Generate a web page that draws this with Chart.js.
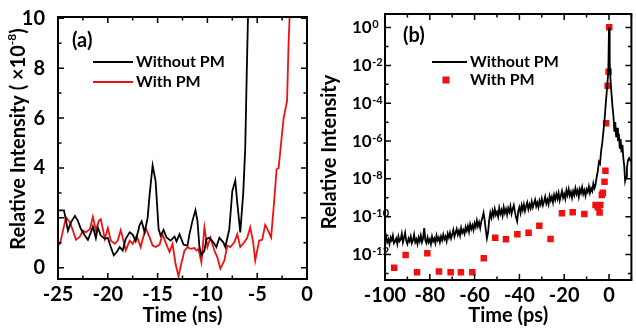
<!DOCTYPE html>
<html>
<head>
<meta charset="utf-8">
<script src="https://cdn.jsdelivr.net/npm/chart.js@4.4.1/dist/chart.umd.min.js"></script>
<style>
  body { margin: 0; background: #fff; }
  .wrap { display: flex; width: 636px; height: 330px; }
</style>
</head>
<body>
<div class="wrap">
  <canvas id="chartA" width="318" height="330"></canvas>
  <canvas id="chartB" width="318" height="330"></canvas>
</div>
<script>
// ---- panel (a): time in ns, relative intensity in units of 1e-8 ----
const aNoPmTime = [-25, -24.4, -24.0, -23.7, -23.3, -23.0, -22.7, -22.3, -22.0, -21.7, -21.5, -21.2, -21.0, -20.7, -20.3, -20.0,
  -19.7, -19.4, -19.1, -18.8, -18.5, -18.2, -17.8, -17.5, -17.2, -16.8, -16.6, -16.3, -16.0, -15.8, -15.5, -15.2, -14.9,
  -14.7, -14.4, -14.1, -13.7, -13.3, -13.1, -12.8, -12.4, -12.0, -11.8, -11.5, -11.2, -11.0, -10.8, -10.6, -10.3, -10.1,
  -9.8, -9.4, -9.1, -8.8, -8.4, -8.2, -7.8, -7.5, -7.2, -7.0, -6.7, -6.4, -6.2, -6.05, -5.9];
const aNoPmValue = [2.3, 2.3, 1.49, 1.82, 2.08, 1.88, 1.55, 1.29, 1.12, 1.42, 1.65, 1.19, 1.62, 1.29, 1.16, 1.2,
  0.83, 0.5, 0.63, 0.83, 0.69, 1.16, 1.42, 1.33, 1.06, 1.72, 1.86, 1.42, 2.0, 2.94, 4.1, 3.47, 1.55,
  1.29, 1.52, 1.22, 1.09, 1.25, 1.06, 1.35, 0.93, 0.89, 1.35, 1.88, 2.31, 1.88, 0.83, 0.5, 0.69, 1.16,
  1.2, 1.02, 0.83, 1.2, 1.02, 0.83, 1.55, 3.07, 3.5, 2.6, 1.42, 3.0, 4.8, 7.8, 10.5];

const aPmTime = [-25, -24.8, -24.5, -24.2, -23.8, -23.5, -23.2, -22.8, -22.5, -22.2, -21.8, -21.5, -21.2, -20.9, -20.7,
  -20.3, -20.0, -19.7, -19.3, -19.0, -18.7, -18.5, -18.2, -17.8, -17.5, -17.1, -16.7, -16.2, -15.8, -15.5, -15.2,
  -14.8, -14.5, -14.2, -13.8, -13.5, -13.2, -12.9, -12.7, -12.3, -12.0, -11.7, -11.3, -11.1, -10.9, -10.6, -10.3,
  -10.0, -9.7, -9.3, -9.0, -8.7, -8.3, -8.0, -7.7, -7.3, -7.0, -6.7, -6.3, -6.0, -5.7, -5.4, -5.2, -4.8, -4.5,
  -4.2, -3.9, -3.6, -3.3, -3.05, -2.85, -2.6, -2.35, -2.0, -1.85, -1.7];
const aPmValue = [0.9, 0.96, 1.49, 2.02, 1.82, 1.49, 1.12, 1.25, 1.49, 1.42, 1.55, 2.04, 1.49, 1.88, 1.95,
  1.16, 1.59, 1.09, 0.96, 1.09, 1.51, 1.2, 0.7, 1.09, 0.96, 1.29, 0.83, 1.59, 1.22, 0.89, 0.83,
  0.93, 1.35, 1.02, 0.63, 0.96, 0.16, -0.34, 0.03, 0.69, 0.83, 0.76, 0.79, 0.69, 0.76, 0.22, 1.62,
  0.83, 1.2, 0.69, 0.42, -0.04, 0.29, 0.89, 0.83, 1.02, 1.35, 0.83, 1.02, 1.2, 1.62, 1.02, 0.29, 1.09, 1.12,
  1.72, 1.49, 1.22, 2.66, 3.95, 4.0, 5.0, 6.0, 6.7, 9.0, 10.5];

const aXTicks = [-25, -22.5, -20, -17.5, -15, -12.5, -10, -7.5, -5, -2.5, 0];
const aXLabels = [-25, -20, -15, -10, -5, 0];
const aYTicks = [0, 1, 2, 3, 4, 5, 6, 7, 8, 9, 10];
const aYLabels = [0, 2, 4, 6, 8, 10];

// ---- panel (b): time in ps, relative intensity given as log10 exponents ----
const bNoPmTime = [
  -100, -99.5, -99, -98.5, -98, -97.5, -97, -96.5, -96, -95.5, -95, -94.5, -94, -93.5, -93, -92.5, -92, -91.5, -91, -90.5,
  -90, -89.5, -89, -88.5, -88, -87.5, -87, -86.5, -86, -85.5, -85, -84.5, -84, -83.5, -83, -82.5, -82, -81.5, -81, -80.5,
  -80, -79.5, -79, -78.5, -78, -77.5, -77, -76.5, -76, -75.5, -75, -74.5, -74, -73.5, -73, -72.5, -72, -71.5, -71, -70.5,
  -70, -69.5, -69, -68.5, -68, -67.5, -67, -66.5, -66, -65.5, -65, -64.5, -64, -63.5, -63, -62.5, -62, -61.5, -61, -60.5,
  -60, -59.5, -59, -58.5, -58, -57.5, -57, -56.5, -56, -55.5, -55, -54.5, -54, -53.5, -53, -52.5, -52, -51.5, -51, -50.5,
  -50, -49.5, -49, -48.5, -48, -47.5, -47, -46.5, -46, -45.5, -45, -44.5, -44, -43.5, -43, -42.5, -42, -41.5, -41, -40.5,
  -40, -39.5, -39, -38.5, -38, -37.5, -37, -36.5, -36, -35.5, -35, -34.5, -34, -33.5, -33, -32.5, -32, -31.5, -31, -30.5,
  -30, -29.5, -29, -28.5, -28, -27.5, -27, -26.5, -26, -25.5, -25, -24.5, -24, -23.5, -23, -22.5, -22, -21.5, -21, -20.5,
  -20, -19.5, -19, -18.5, -18, -17.5, -17, -16.5, -16, -15.5, -15, -14.5, -14, -13.5, -13, -12.5, -12, -11.5, -11, -10.5,
  -10, -9.5, -9, -8.5, -8, -7.5, -7, -6.5, -6,
  -5.5, -5, -4.5, -4, -3.5, -3, -2.5, -2, -1.5, -1, -0.6, -0.3, 0, 0.3, 0.6, 1, 1.5, 2, 2.4, 2.8,
  3.2, 3.6, 4, 4.4, 4.8, 5.2, 5.6, 6, 6.4, 6.8, 7.2, 7.6, 8, 8.5, 9, 9.5, 10];
const bNoPmExp = [
  -11.30, -11.05, -11.35, -11.20, -11.45, -11.10, -11.25, -11.00, -11.40, -11.30, -11.15, -11.45, -11.05, -11.30, -11.20, -10.90, -11.35, -11.10, -10.85, -11.30,
  -11.45, -11.15, -11.30, -11.05, -11.40, -11.25, -10.95, -11.35, -11.20, -11.45, -11.10, -11.30, -11.00, -11.35, -11.15, -10.60, -11.25, -11.40, -11.10, -11.35,
  -11.20, -11.45, -11.05, -11.30, -11.15, -11.40, -11.00, -11.25, -11.10, -11.35, -11.05, -11.25, -10.95, -11.20, -11.05, -11.30, -10.90, -11.10, -10.85, -11.15,
  -10.95, -10.70, -11.05, -10.85, -10.65, -10.95, -10.75, -11.00, -10.60, -10.85, -10.70, -10.90, -10.55, -10.75, -10.50, -10.80, -10.40, -10.65, -10.45, -10.70,
  -10.35, -10.55, -10.20, -10.50, -10.30, -10.60, -10.25, -10.05, -9.80, -10.20, -10.70, -11.15, -10.85, -10.20, -9.80, -10.05, -9.70, -9.95, -9.60, -9.90,
  -9.75, -10.00, -9.55, -9.85, -9.65, -9.95, -9.50, -9.80, -9.60, -9.90, -9.55, -9.75, -9.45, -9.85, -9.60, -9.40, -9.75, -10.05, -10.25, -9.70,
  -9.50, -9.80, -9.40, -9.65, -9.35, -9.70, -9.45, -9.25, -9.60, -9.35, -9.55, -9.20, -9.50, -9.30, -9.10, -9.45, -9.25, -9.50, -9.15, -9.35,
  -9.05, -9.40, -9.20, -8.95, -9.30, -9.10, -9.35, -8.90, -9.15, -8.95, -9.25, -8.85, -9.10, -8.80, -9.05, -8.75, -9.15, -8.90, -8.65, -9.00,
  -8.80, -9.05, -8.60, -8.85, -8.55, -8.90, -8.70, -9.00, -8.65, -8.85, -8.50, -8.80, -8.60, -8.95, -8.55, -8.75, -8.45, -8.80, -8.60, -8.90,
  -8.55, -8.70, -8.40, -8.75, -8.50, -8.65, -8.25, -8.50, -8.30,
  -7.9, -7.6, -7.1, -7.2, -6.5, -6.1, -5.5, -4.9, -4.1, -3.4, -2.8, -2.3, 0, -1.8, -2.6, -3.3, -4.1, -4.7, -5.5, -5.0,
  -5.8, -5.3, -6.0, -5.6, -6.4, -5.9, -6.6, -6.2, -6.9, -7.3, -8.1, -7.9, -7.4, -7.0, -6.9, -7.0, -7.1];

const bPmTime = [-95.9, -90.8, -85.7, -81.1, -75.9, -70.7, -66.1, -61.0, -55.9, -50.8, -46.0, -40.9, -35.9, -31.1, -26.1,
  -21.0, -16.2, -11.0, -6.0, -5.0, -4.2, -3.9, -3.2, -2.75, -2.0, -1.6, -1.3, -0.6, -0.15, 0.1];
const bPmExp = [-12.7, -12.03, -12.94, -11.94, -12.9, -12.94, -12.94, -12.94, -12.2, -11.11, -11.2, -10.93, -10.85, -10.48, -11.18,
  -9.82, -9.77, -9.86, -9.38, -9.5, -9.78, -9.38, -8.85, -8.73, -8.15, -7.57, -5.06, -3.08, -2.33, 0.02];

const bXTicks = [-100, -90, -80, -70, -60, -50, -40, -30, -20, -10, 0, 10];
const bXLabels = [-100, -80, -60, -40, -20, 0];
const bYTickExps = [-13, -12, -11, -10, -9, -8, -7, -6, -5, -4, -3, -2, -1, 0];
const bYLabelExps = [-12, -10, -8, -6, -4, -2, 0];

const FONT = 'Lato';
const RED = '#f01010';
Chart.defaults.font.family = FONT;
Chart.defaults.font.weight = 'bold';
Chart.defaults.color = '#000';

function isIn(list, v) {
  return list.some(u => u === 0 ? v === 0 : Math.abs(u - v) <= 1e-6 * Math.abs(u));
}

// box round the plot area with inward ticks on all four sides
const framePlugin = {
  id: 'frame',
  afterDatasetsDraw(chart, args, opts) {
    const { ctx, chartArea: a, scales } = chart;
    ctx.save();
    ctx.strokeStyle = '#000';
    ctx.lineWidth = 1.5;
    ctx.beginPath();
    scales.x.ticks.forEach(t => {
      const px = scales.x.getPixelForValue(t.value);
      const len = isIn(opts.xMajor, t.value) ? 6 : 3.5;
      ctx.moveTo(px, a.bottom); ctx.lineTo(px, a.bottom - len);
      ctx.moveTo(px, a.top); ctx.lineTo(px, a.top + len);
    });
    scales.y.ticks.forEach(t => {
      const py = scales.y.getPixelForValue(t.value);
      const len = isIn(opts.yMajor, t.value) ? 6 : 3.5;
      ctx.moveTo(a.left, py); ctx.lineTo(a.left + len, py);
      ctx.moveTo(a.right, py); ctx.lineTo(a.right - len, py);
    });
    ctx.stroke();
    ctx.lineWidth = 2;
    ctx.strokeRect(a.left, a.top, a.right - a.left, a.bottom - a.top);
    ctx.restore();
  }
};

// panel tag, in-plot legend, y title with superscript, power-of-ten labels
const overlayPlugin = {
  id: 'overlay',
  afterDraw(chart, args, o) {
    const ctx = chart.ctx;
    ctx.save();
    ctx.fillStyle = '#000';
    ctx.textAlign = 'left';
    ctx.textBaseline = 'middle';

    ctx.font = `bold 20px ${FONT}`;
    ctx.fillText(o.tag.text, o.tag.x, o.tag.y);

    ctx.font = `bold 16px ${FONT}`;
    o.legend.forEach(item => {
      const ds = chart.data.datasets[item.ds];
      if (item.kind === 'line') {
        ctx.strokeStyle = ds.borderColor;
        ctx.lineWidth = 2;
        ctx.beginPath();
        ctx.moveTo(item.x1, item.y); ctx.lineTo(item.x2, item.y);
        ctx.stroke();
      } else {
        const s = 7;
        ctx.fillStyle = ds.backgroundColor;
        ctx.fillRect((item.x1 + item.x2) / 2 - s / 2, item.y - s / 2, s, s);
      }
      ctx.fillStyle = '#000';
      ctx.fillText(ds.label, o.legendTextX, item.y);
    });

    // rotated y title
    const size = o.yTitle.size;
    ctx.translate(o.yTitle.x, o.yTitle.y);
    ctx.rotate(-Math.PI / 2);
    const fonts = o.yTitle.parts.map(p => `bold ${p.sup ? Math.round(size * 0.62) : size}px ${FONT}`);
    const widths = o.yTitle.parts.map((p, i) => { ctx.font = fonts[i]; return ctx.measureText(p.text).width; });
    let x = -widths.reduce((s, w) => s + w, 0) / 2;
    o.yTitle.parts.forEach((p, i) => {
      ctx.font = fonts[i];
      ctx.fillText(p.text, x, p.sup ? -size * 0.33 : 0);
      x += widths[i];
    });
    ctx.setTransform(1, 0, 0, 1, 0, 0);

    if (o.powLabels) {
      const y = chart.scales.y;
      o.powLabels.exps.forEach(e => {
        const py = y.getPixelForValue(10 ** e);
        ctx.font = `bold 17px ${FONT}`;
        ctx.textBaseline = 'middle';
        ctx.fillText('10', o.powLabels.x, py);
        const w = ctx.measureText('10').width;
        ctx.font = `bold 11px ${FONT}`;
        ctx.textBaseline = 'alphabetic';
        ctx.fillText(String(e), o.powLabels.x + w + 0.5, py + 0.5);
      });
    }
    ctx.restore();
  }
};

function pairs(xs, ys) {
  return xs.map((t, i) => ({ x: t, y: ys[i] }));
}

// ---- chart (a) ----
new Chart(document.getElementById('chartA'), {
  type: 'line',
  data: {
    datasets: [
      { label: 'Without PM', data: pairs(aNoPmTime, aNoPmValue), borderColor: '#000', borderWidth: 1.8, pointRadius: 0, tension: 0 },
      { label: 'With PM', data: pairs(aPmTime, aPmValue), borderColor: RED, borderWidth: 1.8, pointRadius: 0, tension: 0 }
    ]
  },
  options: {
    responsive: false,
    animation: false,
    layout: { padding: { top: 14, right: 11, left: 0, bottom: 0 } },
    plugins: {
      legend: { display: false },
      tooltip: { enabled: false },
      frame: { xMajor: aXLabels, yMajor: aYLabels },
      overlay: {
        tag: { text: '(a)', x: 72, y: 41 },
        legend: [
          { kind: 'line', ds: 0, x1: 93, x2: 133, y: 62 },
          { kind: 'line', ds: 1, x1: 93, x2: 133, y: 82 }
        ],
        legendTextX: 136,
        yTitle: {
          x: 19, y: 139, size: 20,
          parts: [{ text: 'Relative Intensity ( \u00d710' }, { text: '-8', sup: true }, { text: ')' }]
        }
      }
    },
    scales: {
      x: {
        type: 'linear', min: -25, max: 0,
        afterBuildTicks: s => { s.ticks = aXTicks.map(v => ({ value: v })); },
        afterFit: s => { s.height = 51; },
        grid: { display: false }, border: { display: false },
        ticks: { autoSkip: false, maxRotation: 0, padding: -4, font: { size: 20, weight: 'bold' },
          callback: v => aXLabels.includes(v) ? String(v) : '' },
        title: { display: true, text: 'Time (ns)', font: { size: 20, weight: 'bold' }, padding: { top: 0, bottom: 2 } }
      },
      y: {
        min: -0.45, max: 10.05,
        afterBuildTicks: s => { s.ticks = aYTicks.map(v => ({ value: v })); },
        afterFit: s => { s.width = 58; },
        grid: { display: false }, border: { display: false },
        ticks: { autoSkip: false, padding: 5, font: { size: 20, weight: 'bold' },
          callback: v => aYLabels.includes(v) ? String(v) : '' }
      }
    }
  },
  plugins: [framePlugin, overlayPlugin]
});

// ---- chart (b) ----
new Chart(document.getElementById('chartB'), {
  type: 'line',
  data: {
    datasets: [
      { label: 'Without PM', data: pairs(bNoPmTime, bNoPmExp.map(e => 10 ** e)), borderColor: '#000', borderWidth: 1.8, pointRadius: 0, tension: 0 },
      { label: 'With PM', data: pairs(bPmTime, bPmExp.map(e => 10 ** e)), showLine: false, pointStyle: 'rect',
        pointRadius: 4.6, backgroundColor: RED, borderColor: RED, borderWidth: 0 }
    ]
  },
  options: {
    responsive: false,
    animation: false,
    layout: { padding: { top: 14, right: 1, left: 0, bottom: 0 } },
    plugins: {
      legend: { display: false },
      tooltip: { enabled: false },
      frame: { xMajor: bXLabels, yMajor: bYLabelExps.map(e => 10 ** e) },
      overlay: {
        tag: { text: '(b)', x: 85, y: 36 },
        legend: [
          { kind: 'line', ds: 0, x1: 114, x2: 149, y: 62 },
          { kind: 'rect', ds: 1, x1: 114, x2: 142, y: 80 }
        ],
        legendTextX: 152,
        yTitle: { x: 12, y: 152, size: 20, parts: [{ text: 'Relative Intensity' }] },
        powLabels: { exps: bYLabelExps, x: 34 }
      }
    },
    scales: {
      x: {
        type: 'linear', min: -100, max: 10,
        afterBuildTicks: s => { s.ticks = bXTicks.map(v => ({ value: v })); },
        afterFit: s => { s.height = 50; },
        grid: { display: false }, border: { display: false },
        ticks: { autoSkip: false, maxRotation: 0, padding: -4, font: { size: 20, weight: 'bold' },
          callback: v => bXLabels.includes(v) ? String(v) : '' },
        title: { display: true, text: 'Time (ps)', font: { size: 20, weight: 'bold' }, padding: { top: 0, bottom: 2 } }
      },
      y: {
        type: 'logarithmic', min: 10 ** -13.35, max: 10 ** 0.72,
        afterBuildTicks: s => { s.ticks = bYTickExps.map(e => ({ value: 10 ** e })); },
        afterFit: s => { s.width = 67; },
        grid: { display: false }, border: { display: false },
        ticks: { autoSkip: false, callback: () => '' }
      }
    }
  },
  plugins: [framePlugin, overlayPlugin]
});
</script>
</body>
</html>
